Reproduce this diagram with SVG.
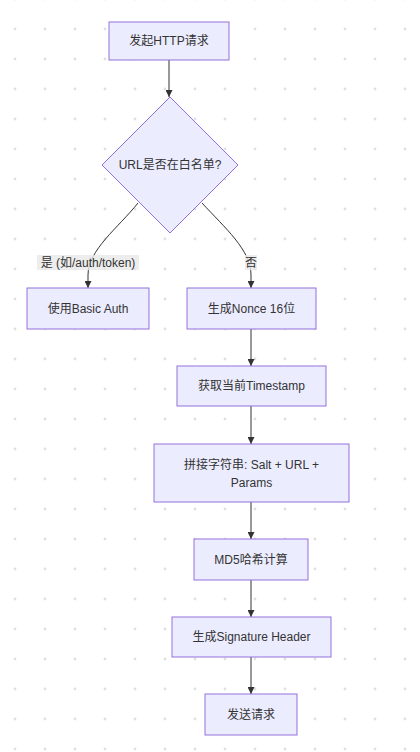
<svg xmlns="http://www.w3.org/2000/svg" width="420" height="752" viewBox="0 0 420 752">
<style>
.node rect, .node polygon { fill: #ECECFF; stroke: #9370DB; stroke-width: 1; }
.node text, .lbl text { font-family: "Liberation Sans", "Noto Sans CJK SC", sans-serif; font-size: 12px; fill: #333; text-anchor: middle; dominant-baseline: central; }
.edge { fill: none; stroke: #333; stroke-width: 1; marker-end: url(#arr); }
.lbl rect { fill: #e8e8e8; opacity: 0.8; }
</style>
<defs>
<pattern id="dots" patternUnits="userSpaceOnUse" x="0" y="14" width="30" height="30">
<circle cx="15" cy="15" r="1.4" fill="#e0e0e0"/>
</pattern>
<marker id="arr" markerUnits="userSpaceOnUse" viewBox="0 0 10 10" refX="10" refY="5" markerWidth="7" markerHeight="7" orient="auto">
<path d="M0,0 L10,5 L0,10 z" fill="#333"/>
</marker>
</defs>
<rect width="420" height="752" fill="#fff"/>
<rect width="420" height="752" fill="url(#dots)"/>
<g id="edges">
<path class="edge" d="M169,60 L169,97"/>
<path class="edge" d="M138,203 C118,228 88,250 88,275 L88,288"/>
<path class="edge" d="M202,203 C225,228 251,250 251,275 L251,288"/>
<path class="edge" d="M251,329 L251,366"/>
<path class="edge" d="M251,406 L251,444"/>
<path class="edge" d="M251,502 L251,539"/>
<path class="edge" d="M251,580 L251,617"/>
<path class="edge" d="M251,657 L251,694"/>
<g class="lbl"><rect x="37" y="255" width="102" height="15"/><text x="88" y="262.5">是 (如/auth/token)</text></g>
<g class="lbl"><rect x="245" y="255" width="12" height="15"/><text x="251" y="262.5">否</text></g>
</g>
<g id="n1" class="node"><rect x="109" y="22" width="120" height="38"/><text x="169" y="41">发起HTTP请求</text></g>
<g id="n2" class="node"><polygon points="170,97 238,165 170,233 102,165"/><text x="170" y="165">URL是否在白名单?</text></g>
<g id="n3" class="node"><rect x="27" y="288" width="122" height="41"/><text x="88" y="308.5">使用Basic Auth</text></g>
<g id="n4" class="node"><rect x="187" y="288" width="129" height="41"/><text x="251.5" y="308.5">生成Nonce 16位</text></g>
<g id="n5" class="node"><rect x="177" y="366" width="149" height="40"/><text x="251.5" y="386">获取当前Timestamp</text></g>
<g id="n6" class="node"><rect x="154" y="444" width="195" height="58"/><text x="251.5" y="465">拼接字符串: Salt + URL +</text><text x="251.5" y="483">Params</text></g>
<g id="n7" class="node"><rect x="194" y="539" width="114" height="41"/><text x="251" y="559.5">MD5哈希计算</text></g>
<g id="n8" class="node"><rect x="172" y="617" width="159" height="40"/><text x="251.5" y="637">生成Signature Header</text></g>
<g id="n9" class="node"><rect x="205" y="694" width="92" height="41"/><text x="251" y="714.5">发送请求</text></g>
</svg>
